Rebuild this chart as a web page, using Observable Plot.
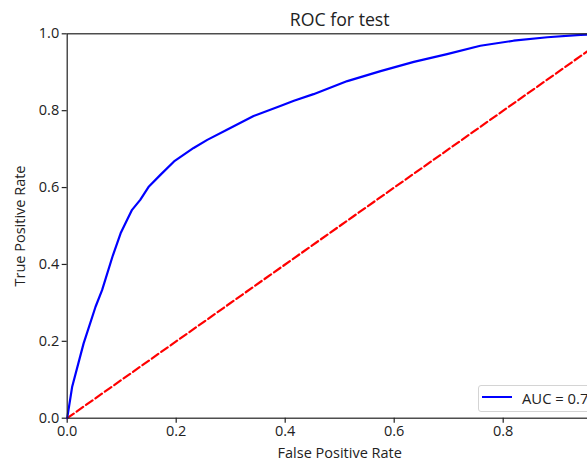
<!DOCTYPE html>
<html><head><meta charset="utf-8">
<script src="https://cdn.jsdelivr.net/npm/d3@7"></script>
<script src="https://cdn.jsdelivr.net/npm/@observablehq/plot@0.6"></script>
<style>
html,body{margin:0;padding:0;background:#fff;overflow:hidden}
#wrap{position:relative;width:587px;height:461px;overflow:hidden}
#wrap svg{max-width:none}
#legend{position:absolute;left:478px;top:385px;width:127px;height:27px;border:1px solid #d4d4d4;border-radius:3px;background:rgba(255,255,255,0.8);box-sizing:border-box;font-family:"Open Sans";font-size:14.8px;color:#222;white-space:nowrap}
#legend .swatch{position:absolute;left:3px;top:10px;width:30px;height:0;border-top:2.2px solid #0000ff}
#legend .lab{position:absolute;left:43px;top:2px;line-height:20px}
</style></head><body><div id="wrap"></div>
<script>
const title = "ROC for test";
const xLabel = "False Positive Rate";
const yLabel = "True Positive Rate";
const legendLabel = "AUC = 0.78";
const xTickValues = [0.0, 0.2, 0.4, 0.6, 0.8];
const yTickValues = [0.0, 0.2, 0.4, 0.6, 0.8, 1.0];
// ROC curve
const fpr = [0, 0.009, 0.030, 0.052, 0.064, 0.083, 0.098, 0.110, 0.119, 0.134, 0.150, 0.171, 0.196, 0.232, 0.257, 0.294, 0.342, 0.391, 0.416, 0.452, 0.514, 0.575, 0.636, 0.697, 0.758, 0.819, 0.881, 0.942, 1.0];
const tpr = [0, 0.081, 0.194, 0.290, 0.333, 0.420, 0.481, 0.516, 0.542, 0.568, 0.603, 0.633, 0.668, 0.703, 0.724, 0.751, 0.786, 0.812, 0.826, 0.843, 0.877, 0.903, 0.927, 0.947, 0.969, 0.982, 0.991, 0.997, 1.0];
// chance diagonal
const chanceX = [0, 1];
const chanceY = [0, 1];

const roc = fpr.map((x, i) => ({x, y: tpr[i]}));
const chance = chanceX.map((x, i) => ({x, y: chanceY[i]}));

const font = "Open Sans";
const plot = Plot.plot({
  width: 612, height: 461,
  marginLeft: 66.7, marginRight: 0.3, marginTop: 33.3, marginBottom: 43.3,
  style: {fontFamily: font, fontSize: "14.5px", color: "#222", background: "#fff", maxWidth: "none"},
  x: {domain: [0, 1]},
  y: {domain: [0, 1]},
  marks: [
    Plot.axisX({ticks: xTickValues, tickFormat: d3.format(".1f"), tickSize: 5, tickPadding: 3, stroke: "#222", strokeWidth: 1.2,
      label: xLabel, labelAnchor: "center", labelArrow: "none", labelOffset: 40, fontSize: 14.5}),
    Plot.axisY({ticks: yTickValues, tickFormat: d3.format(".1f"), tickSize: 5, tickPadding: 3, stroke: "#222", strokeWidth: 1.2,
      label: yLabel, labelAnchor: "center", labelArrow: "none", labelOffset: 52, fontSize: 14.5}),
    Plot.line(chance, {x: "x", y: "y", stroke: "#ff0000", strokeWidth: 2.2, strokeDasharray: "8,3.5"}),
    Plot.line(roc, {x: "x", y: "y", stroke: "#0000ff", strokeWidth: 2.2, curve: "linear"}),
    Plot.frame({stroke: "#222", strokeWidth: 1.2}),
    Plot.text([title], {frameAnchor: "top", text: d => d, dy: -8, lineAnchor: "bottom", fontSize: 17.7, fill: "#222"})
  ]
});
const wrap = document.getElementById("wrap");
wrap.appendChild(plot);
const leg = document.createElement("div");
leg.id = "legend";
leg.innerHTML = '<div class="swatch"></div><div class="lab"></div>';
leg.querySelector(".lab").textContent = legendLabel;
wrap.appendChild(leg);
</script></body></html>
